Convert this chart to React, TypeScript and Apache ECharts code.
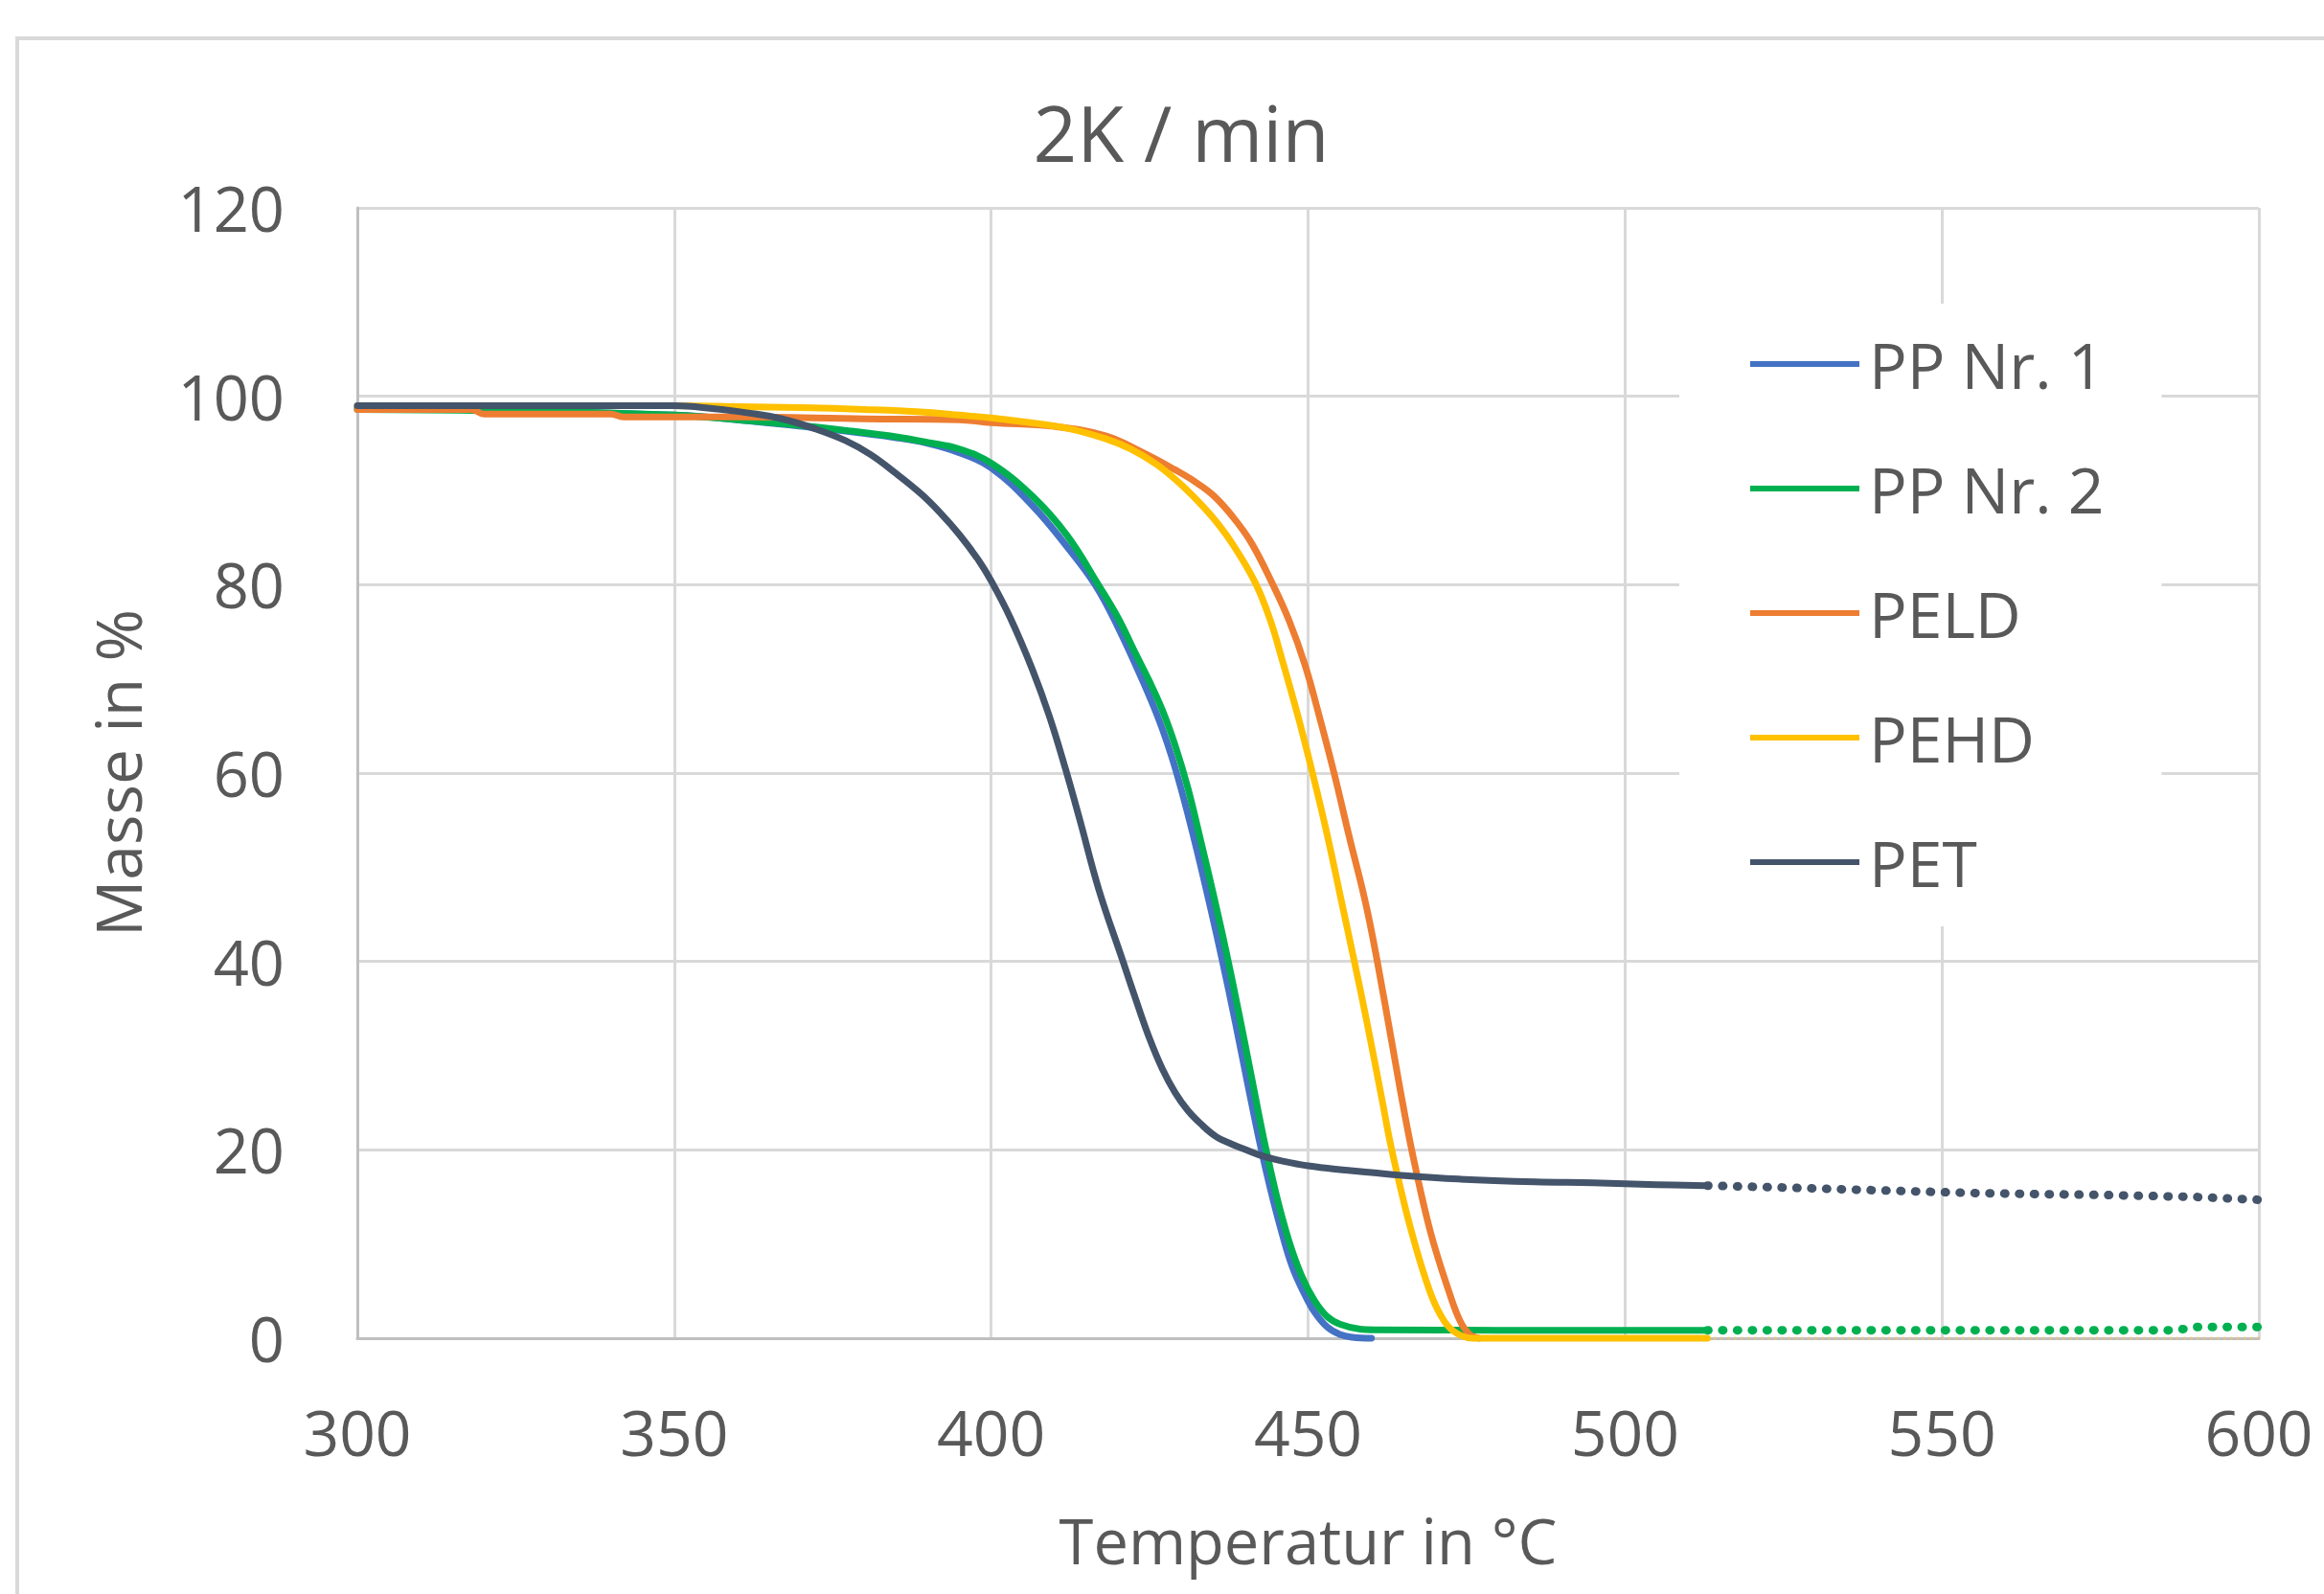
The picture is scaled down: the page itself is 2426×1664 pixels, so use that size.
import React, { useEffect, useRef } from 'react';
import * as echarts from 'echarts';

const TITLE = '2K / min';
const X_NAME = 'Temperatur in °C';
const Y_NAME = 'Masse in %';
const SERIES_NAMES = ['PP Nr. 1', 'PP Nr. 2', 'PELD', 'PEHD', 'PET'];
const COLORS = ['#4472C4', '#00B050', '#ED7D31', '#FFC000', '#44546A'];

// PP Nr. 1 (blue)
const PP1_T = [300, 350, 363, 377, 385, 390, 395, 400, 406.5, 412, 416.4, 420, 423.9, 426.5, 428.5, 430.5, 432.5, 434.5, 436.5, 438.5, 440.5, 442.3, 444, 445.7, 447.5, 449.5, 451, 453, 455, 457, 460];
const PP1_M = [98.8, 98.0, 97.3, 96.3, 95.6, 95.0, 94.0, 92.4, 88.4, 84.0, 80.0, 75.5, 69.8, 65.6, 61.7, 57.0, 51.7, 46.0, 40.0, 33.6, 26.9, 21.0, 16.0, 11.6, 7.6, 4.6, 2.8, 1.2, 0.4, 0.1, 0.0];

// PP Nr. 2 (green)
const PP2_T = [300, 330, 350, 360, 370, 378, 385, 390, 395, 400, 406.5, 412, 416.9, 420, 422.7, 425, 427, 429, 431, 433, 435, 437, 439, 441, 443, 445, 447, 449, 451, 453, 455, 458, 461, 480, 500, 513];
const PP2_M = [98.6, 98.4, 98.0, 97.5, 96.9, 96.3, 95.7, 95.1, 94.4, 92.9, 89.4, 85.2, 80.0, 76.5, 72.8, 69.7, 66.7, 63.0, 58.5, 53.0, 47.3, 41.3, 34.8, 28.0, 21.2, 15.2, 10.3, 6.6, 4.0, 2.3, 1.5, 1.0, 0.9, 0.85, 0.85, 0.85];
const PP2_TAIL_T = [513, 540, 570, 587, 590, 600];
const PP2_TAIL_M = [0.85, 0.85, 0.85, 0.85, 1.2, 1.2];

// PELD (orange)
const PELD_T = [300, 318, 320, 340, 342, 360, 380, 395, 400, 410, 418, 424, 429, 432, 435, 438, 441, 444.3, 447, 449.5, 451.7, 454.1, 456.4, 459.3, 462, 464.5, 466.5, 469.3, 472.3, 474, 475.5, 477];
const PELD_M = [98.6, 98.6, 98.1, 98.1, 97.8, 97.8, 97.6, 97.5, 97.2, 96.8, 95.8, 94.0, 92.2, 91.0, 89.5, 87.3, 84.5, 80.2, 76.2, 71.5, 66.2, 60.0, 53.5, 45.5, 36.0, 26.5, 19.5, 11.3, 4.8, 1.8, 0.4, 0.0];

// PEHD (yellow)
const PEHD_T = [300, 350, 360, 370, 380, 390, 395, 400, 405, 412, 418, 422, 426, 429, 432, 435, 438, 441.6, 444, 446, 448.5, 450.7, 453, 455.2, 457.3, 459.3, 461.7, 463.2, 466.2, 469.3, 471.5, 473.5, 476, 490, 513];
const PEHD_M = [99.0, 99.0, 98.9, 98.8, 98.6, 98.3, 98.0, 97.7, 97.3, 96.6, 95.5, 94.4, 92.8, 91.2, 89.3, 87.1, 84.4, 80.3, 76.3, 71.8, 65.8, 60.0, 53.5, 46.6, 40.0, 33.5, 25.2, 20.0, 11.6, 4.8, 1.8, 0.5, 0.0, 0.0, 0.0];
const PEHD_TAIL_T = [513, 600];
const PEHD_TAIL_M = [0.0, 0.0];

// PET (dark slate)
const PET_T = [300, 350, 356, 362, 367, 372, 377, 381, 385, 389, 392, 395, 398, 400, 403, 406.5, 409.2, 411.7, 414, 417, 420.8, 423, 425, 427, 429, 431, 433, 435.5, 438, 440.2, 443, 446, 450, 455, 460, 464.6, 473.7, 485.8, 495, 505, 513];
const PET_M = [99.0, 99.0, 98.7, 98.2, 97.6, 96.6, 95.3, 93.8, 91.8, 89.6, 87.6, 85.3, 82.6, 80.4, 76.5, 71.0, 66.0, 60.5, 55.0, 47.6, 40.0, 35.6, 31.8, 28.6, 26.1, 24.2, 22.8, 21.4, 20.6, 20.0, 19.3, 18.8, 18.3, 17.9, 17.6, 17.3, 16.9, 16.6, 16.5, 16.3, 16.2];
const PET_TAIL_T = [513, 525, 540, 556, 576, 590, 600];
const PET_TAIL_M = [16.2, 16.0, 15.7, 15.4, 15.2, 15.0, 14.7];

const X_MIN = 300;
const X_MAX = 600;
const X_STEP = 50;
const Y_MIN = 0;
const Y_MAX = 120;
const Y_STEP = 20;

const FONT = "'Open Sans', 'Noto Sans', sans-serif";
const TEXT_COLOR = '#595959';
const GRID_COLOR = '#D9D9D9';

const zip = (t: number[], m: number[]) => t.map((x, i) => [x, m[i]]);

export default function App() {
  const ref = useRef<HTMLDivElement>(null);

  useEffect(() => {
    if (!ref.current) return;
    const chart = echarts.init(ref.current, null, { renderer: 'svg' });

    const solid = [
      zip(PP1_T, PP1_M),
      zip(PP2_T, PP2_M),
      zip(PELD_T, PELD_M),
      zip(PEHD_T, PEHD_M),
      zip(PET_T, PET_M),
    ];

    const solidSeries = SERIES_NAMES.map((name, i) => ({
      name,
      type: 'line',
      data: solid[i],
      showSymbol: false,
      symbol: 'none',
      smooth: 0.4,
      clip: false,
      itemStyle: { color: COLORS[i] },
      lineStyle: { color: COLORS[i], width: 7, cap: 'round', join: 'round' },
      z: 2 + i * 0.1,
    }));

    const tailSeries = [
      {
        name: 'PEHD (Forts.)',
        type: 'line',
        data: zip(PEHD_TAIL_T, PEHD_TAIL_M),
        showSymbol: false,
        symbol: 'none',
        clip: false,
        itemStyle: { color: COLORS[3] },
        lineStyle: { color: '#F4C070', width: 3, type: [2, 5], opacity: 0.8 },
        z: 2,
      },
      {
        name: 'PP Nr. 2 (Forts.)',
        type: 'line',
        data: zip(PP2_TAIL_T, PP2_TAIL_M),
        showSymbol: false,
        symbol: 'none',
        clip: false,
        itemStyle: { color: COLORS[1] },
        lineStyle: { color: COLORS[1], width: 9, type: [1, 14.5], cap: 'round' },
        z: 2.5,
      },
      {
        name: 'PET (Forts.)',
        type: 'line',
        data: zip(PET_TAIL_T, PET_TAIL_M),
        showSymbol: false,
        symbol: 'none',
        clip: false,
        itemStyle: { color: COLORS[4] },
        lineStyle: { color: COLORS[4], width: 9, type: [1, 14.5], cap: 'round' },
        z: 2.5,
      },
    ];

    chart.setOption({
      animation: false,
      backgroundColor: '#ffffff',
      textStyle: { fontFamily: FONT },
      grid: { left: 373, right: 68, top: 217, bottom: 267, containLabel: false },
      xAxis: {
        type: 'value',
        min: X_MIN,
        max: X_MAX,
        interval: X_STEP,
        name: X_NAME,
        nameLocation: 'middle',
        nameGap: 178,
        nameTextStyle: { fontSize: 65, color: TEXT_COLOR, fontFamily: FONT },
        axisLine: { show: true, onZero: false, lineStyle: { color: '#BFBFBF', width: 3 } },
        axisTick: { show: false },
        axisLabel: { fontSize: 66, color: TEXT_COLOR, margin: 64, fontFamily: FONT },
        splitLine: { show: true, lineStyle: { color: GRID_COLOR, width: 3 } },
      },
      yAxis: {
        type: 'value',
        min: Y_MIN,
        max: Y_MAX,
        interval: Y_STEP,
        name: Y_NAME,
        nameLocation: 'middle',
        nameRotate: 90,
        nameGap: 218,
        nameTextStyle: { fontSize: 66, color: TEXT_COLOR, fontFamily: FONT },
        axisLine: { show: true, lineStyle: { color: '#BFBFBF', width: 3 } },
        axisTick: { show: false },
        axisLabel: { fontSize: 65, color: TEXT_COLOR, margin: 76, fontFamily: FONT },
        splitLine: { show: true, lineStyle: { color: GRID_COLOR, width: 3 } },
      },
      legend: {
        data: SERIES_NAMES,
        orient: 'vertical',
        left: 1753,
        top: 317,
        padding: [28, 60, 32, 74],
        backgroundColor: '#ffffff',
        icon: 'rect',
        itemWidth: 114,
        itemHeight: 6,
        itemGap: 60,
        textStyle: {
          fontSize: 66,
          lineHeight: 70,
          color: TEXT_COLOR,
          fontFamily: FONT,
          padding: [0, 0, 0, 5],
        },
      },
      graphic: [
        {
          type: 'rect',
          shape: { x: 18, y: 40, width: 2460, height: 1700 },
          style: { fill: 'none', stroke: '#D9D9D9', lineWidth: 4 },
          silent: true,
          z: -10,
        },
        {
          type: 'text',
          x: 1233,
          y: 137,
          style: {
            text: TITLE,
            fontSize: 80,
            fontFamily: FONT,
            fill: TEXT_COLOR,
            textAlign: 'center',
            textVerticalAlign: 'middle',
          },
          silent: true,
        },
      ],
      series: [...solidSeries, ...tailSeries],
    });

    return () => {
      chart.dispose();
    };
  }, []);

  return (
    <div
      ref={ref}
      style={{ position: 'fixed', left: 0, top: 0, width: '2426px', height: '1664px' }}
    />
  );
}
